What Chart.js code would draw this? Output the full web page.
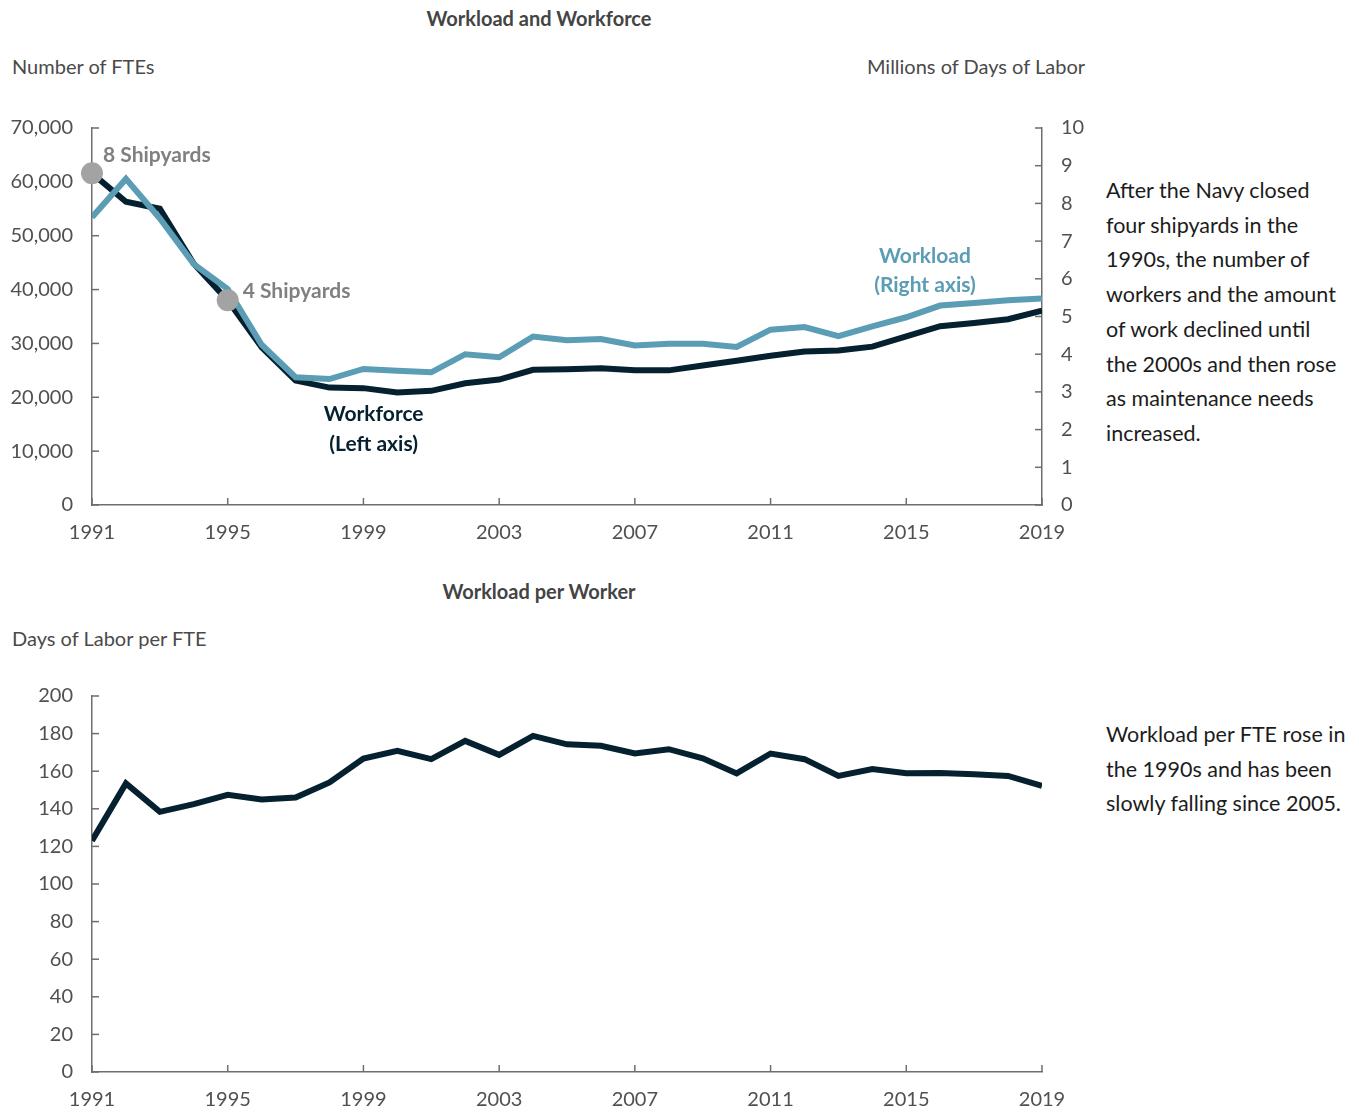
<!DOCTYPE html>
<html>
<head>
<meta charset="utf-8">
<script src="https://cdn.jsdelivr.net/npm/chart.js@4.4.1/dist/chart.umd.min.js"></script>
<style>
  body { margin: 0; background: #fff; font-family: Lato, Roboto, sans-serif; }
  #page { position: relative; width: 1359px; height: 1113px; overflow: hidden; }
  .txt { position: absolute; white-space: nowrap; color: #4a4a4a; font-size: 20px; line-height: 24px; }
  .title { font-weight: bold; color: #444; }
  .note { color: #1c1c1c; font-size: 21.5px; line-height: 34.7px; }
  canvas { position: absolute; left: 0; }
</style>
</head>
<body>
<div id="page">
  <div class="txt title" style="left:339px;width:400px;text-align:center;top:6px;">Workload and Workforce</div>
  <div class="txt" style="left:12px;top:54px;">Number of FTEs</div>
  <div class="txt" style="right:274px;top:54px;">Millions of Days of Labor</div>
  <div class="txt note" style="left:1106px;top:173px;">After the Navy closed<br>four shipyards in the<br>1990s, the number of<br>workers and the amount<br>of work declined until<br>the 2000s and then rose<br>as maintenance needs<br>increased.</div>

  <div class="txt title" style="left:339px;width:400px;text-align:center;top:579px;">Workload per Worker</div>
  <div class="txt" style="left:12px;top:626px;">Days of Labor per FTE</div>
  <div class="txt note" style="left:1106px;top:717px;">Workload per FTE rose in<br>the 1990s and has been<br>slowly falling since 2005.</div>

  <canvas id="top" style="top:0px;"></canvas>
  <canvas id="bottom" style="top:560px;"></canvas>
</div>
<script>
const years = [1991, 1992, 1993, 1994, 1995, 1996, 1997, 1998, 1999, 2000,
               2001, 2002, 2003, 2004, 2005, 2006, 2007, 2008, 2009, 2010,
               2011, 2012, 2013, 2014, 2015, 2016, 2017, 2018, 2019];
// number of FTEs (left axis)
const workforce = [61600, 56300, 55000, 44800, 38000, 29300, 23100, 21800, 21700, 20900,
                   21200, 22600, 23300, 25100, 25200, 25400, 25000, 25000, 25900, 26800,
                   27700, 28500, 28700, 29400, 31300, 33200, 33800, 34500, 36100];
// millions of days of labor (right axis)
const workload = [7.63, 8.65, 7.6, 6.39, 5.73, 4.25, 3.39, 3.34, 3.61, 3.56,
                  3.52, 4.0, 3.92, 4.47, 4.37, 4.40, 4.23, 4.28, 4.28, 4.19,
                  4.65, 4.72, 4.48, 4.74, 4.98, 5.29, 5.36, 5.43, 5.48];
// days of labor per FTE
const perFte = [123, 153.5, 138.4, 142.5, 147.4, 145, 146, 154, 166.7, 170.8,
                166.4, 176.1, 168.7, 178.8, 174.3, 173.5, 169.4, 171.7, 166.9, 158.8,
                169.4, 166.4, 157.5, 161.1, 158.9, 159, 158.4, 157.5, 152.2];
const shipyardYears = [1991, 1995];
const shipyardLabels = ['8 Shipyards', '4 Shipyards'];

const DARK = '#05202f';
const LIGHT = '#5a9db5';
const AXIS = '#6e6e6e';
const FONT = 'Lato, Roboto, sans-serif';

function pts(vals) { return years.map((y, i) => ({ x: y, y: vals[i] })); }

// short tick marks pointing into the plot, like the original
const innerTicks = {
  id: 'innerTicks',
  beforeDatasetsDraw(chart) {
    const ctx = chart.ctx, a = chart.chartArea;
    ctx.save();
    ctx.strokeStyle = AXIS;
    ctx.lineWidth = 1.5;
    Object.values(chart.scales).forEach(s => {
      s.ticks.forEach(t => {
        const p = s.getPixelForValue(t.value);
        ctx.beginPath();
        if (s.axis === 'x') { ctx.moveTo(p, a.bottom); ctx.lineTo(p, a.bottom - 7); }
        else if (s.position === 'left') { ctx.moveTo(a.left, p); ctx.lineTo(a.left + 7, p); }
        else { ctx.moveTo(a.right, p); ctx.lineTo(a.right - 7, p); }
        ctx.stroke();
      });
    });
    ctx.restore();
  }
};

// series labels and shipyard notes
const seriesLabels = {
  id: 'seriesLabels',
  afterDatasetsDraw(chart) {
    const ctx = chart.ctx, s = chart.scales;
    ctx.save();
    ctx.textBaseline = 'middle';
    ctx.font = 'bold 21px ' + FONT;
    ctx.fillStyle = '#808080';
    ctx.textAlign = 'left';
    shipyardYears.forEach((yr, i) => {
      const v = workforce[years.indexOf(yr)];
      const x = s.x.getPixelForValue(yr) + (i === 0 ? 11 : 15);
      const y = s.y.getPixelForValue(v) + (i === 0 ? -18 : -9);
      ctx.fillText(shipyardLabels[i], x, y);
    });
    ctx.textAlign = 'center';
    ctx.fillStyle = DARK;
    let x = s.x.getPixelForValue(1999.3), y = s.y.getPixelForValue(16900);
    ctx.fillText('Workforce', x, y);
    ctx.fillText('(Left axis)', x, y + 30);
    ctx.fillStyle = LIGHT;
    x = s.x.getPixelForValue(2015.55); y = s.y2.getPixelForValue(6.6);
    ctx.fillText('Workload', x, y);
    ctx.fillText('(Right axis)', x, y + 29);
    ctx.restore();
  }
};

const tickFont = { family: FONT, size: 20 };
const tickColor = '#505050';

function xAxis() {
  return {
    type: 'linear', min: 1991, max: 2019,
    ticks: { stepSize: 4, font: tickFont, color: tickColor, padding: 16, maxRotation: 0,
             callback: v => String(v) },
    grid: { display: true, drawOnChartArea: false, drawTicks: false },
    border: { color: AXIS, width: 1.5 }
  };
}
function yAxis(pos, max, step, width, fmt) {
  return {
    type: 'linear', position: pos, min: 0, max: max,
    ticks: { stepSize: step, font: tickFont, color: tickColor, padding: 19, callback: fmt },
    grid: { display: true, drawOnChartArea: false, drawTicks: false },
    border: { color: AXIS, width: 1.5 },
    afterFit(sc) { sc.width = width; }
  };
}

const topCanvas = document.getElementById('top');
topCanvas.width = 1100; topCanvas.height = 560;
new Chart(topCanvas, {
  type: 'line',
  data: {
    datasets: [
      {
        label: 'Shipyards', yAxisID: 'y', order: 0, clip: false,
        data: shipyardYears.map(yr => ({ x: yr, y: workforce[years.indexOf(yr)] })),
        showLine: false, pointRadius: 11, pointBackgroundColor: '#a3a3a3', pointBorderWidth: 0
      },
      {
        label: 'Workload', yAxisID: 'y2', order: 1, data: pts(workload),
        borderColor: LIGHT, borderWidth: 6, pointRadius: 0, tension: 0
      },
      {
        label: 'Workforce', yAxisID: 'y', order: 2, data: pts(workforce),
        borderColor: DARK, borderWidth: 6, pointRadius: 0, tension: 0
      }
    ]
  },
  options: {
    responsive: false, animation: false,
    layout: { padding: { top: 128, left: 0, right: 0, bottom: 0 } },
    plugins: { legend: { display: false }, tooltip: { enabled: false } },
    scales: {
      x: Object.assign(xAxis(), { afterFit(sc) { sc.height = 55; } }),
      y: yAxis('left', 70000, 10000, 92, v => v.toLocaleString('en-US')),
      y2: yAxis('right', 10, 1, 58, v => String(v))
    }
  },
  plugins: [innerTicks, seriesLabels]
});

const botCanvas = document.getElementById('bottom');
botCanvas.width = 1100; botCanvas.height = 553;
new Chart(botCanvas, {
  type: 'line',
  data: {
    datasets: [{
      label: 'Workload per FTE', data: pts(perFte),
      borderColor: DARK, borderWidth: 6, pointRadius: 0, tension: 0
    }]
  },
  options: {
    responsive: false, animation: false,
    layout: { padding: { top: 136, left: 0, right: 58, bottom: 0 } },
    plugins: { legend: { display: false }, tooltip: { enabled: false } },
    scales: {
      x: Object.assign(xAxis(), { afterFit(sc) { sc.height = 41; } }),
      y: yAxis('left', 200, 20, 92, v => String(v))
    }
  },
  plugins: [innerTicks]
});
</script>
</body>
</html>
